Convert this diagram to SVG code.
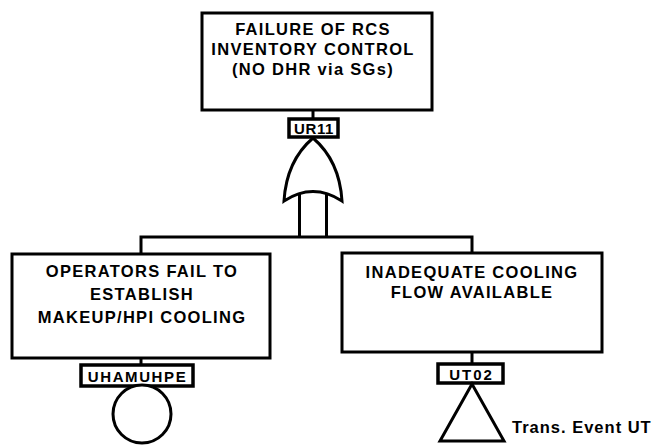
<svg xmlns="http://www.w3.org/2000/svg" width="657" height="446" viewBox="0 0 657 446">
  <style>
    .box { fill: #fff; stroke: #000; stroke-width: 3; }
    .tag { fill: #fff; stroke: #000; stroke-width: 3.5; }
    .wire { fill: none; stroke: #000; stroke-width: 3; }
    .sym { fill: #fff; stroke: #000; stroke-width: 3; stroke-linejoin: miter; }
    .t { font-family: "Liberation Sans", Arial, Helvetica, sans-serif; font-weight: bold; font-size: 16.5px; letter-spacing: 1.3px; text-anchor: middle; fill: #000; }
    .id { font-family: "Liberation Sans", Arial, Helvetica, sans-serif; font-weight: bold; font-size: 15px; letter-spacing: 1.2px; text-anchor: middle; fill: #000; }
    .note { font-family: "Liberation Sans", Arial, Helvetica, sans-serif; font-weight: bold; font-size: 16.5px; letter-spacing: 1px; fill: #000; }
  </style>
  <rect width="657" height="446" fill="#fff"/>

  <!-- connectors -->
  <g id="connectors">
    <line class="wire" x1="313" y1="110" x2="313" y2="119"/>
    <polyline class="wire" points="141,254 141,237 472,237 472,253"/>
    <line class="wire" x1="299.5" y1="190" x2="299.5" y2="237"/>
    <line class="wire" x1="326.5" y1="190" x2="326.5" y2="237"/>
    <line class="wire" x1="141" y1="358" x2="141" y2="365"/>
    <line class="wire" x1="472" y1="352" x2="472" y2="364"/>
  </g>

  <!-- top event -->
  <g id="top-event">
    <rect class="box" x="202" y="13" width="230" height="97"/>
    <text class="t" x="313" y="35">FAILURE OF RCS</text>
    <text class="t" x="313" y="55">INVENTORY CONTROL</text>
    <text class="t" x="313" y="75">(NO DHR via SGs)</text>
  </g>

  <!-- OR gate UR11 -->
  <g id="gate-UR11">
    <rect class="tag" x="289" y="119" width="49" height="18"/>
    <text class="id" x="314" y="134" style="letter-spacing:0.6px">UR11</text>
    <path class="sym" d="M313,138 C299,150 286,168 284,201 Q313,182 342,201 C340,168 327,150 313,138 Z"/>
  </g>

  <!-- left basic event -->
  <g id="event-UHAMUHPE">
    <rect class="box" x="12" y="254" width="258" height="104"/>
    <text class="t" x="142" y="277">OPERATORS FAIL TO</text>
    <text class="t" x="142" y="300">ESTABLISH</text>
    <text class="t" x="142" y="323">MAKEUP/HPI COOLING</text>
    <rect class="tag" x="81" y="365" width="112" height="21"/>
    <text class="id" x="137.5" y="381.5" style="letter-spacing:1.6px">UHAMUHPE</text>
    <circle class="sym" cx="142" cy="414" r="29"/>
  </g>

  <!-- right transfer event -->
  <g id="event-UT02">
    <rect class="box" x="342" y="253" width="260" height="99"/>
    <text class="t" x="472" y="278">INADEQUATE COOLING</text>
    <text class="t" x="472" y="298">FLOW AVAILABLE</text>
    <rect class="tag" x="438" y="364" width="65" height="19"/>
    <text class="id" x="471.5" y="379.5" style="letter-spacing:2px">UT02</text>
    <polygon class="sym" points="472,384 440,441 504,441"/>
    <text class="note" x="512" y="433">Trans. Event UT</text>
  </g>
</svg>
